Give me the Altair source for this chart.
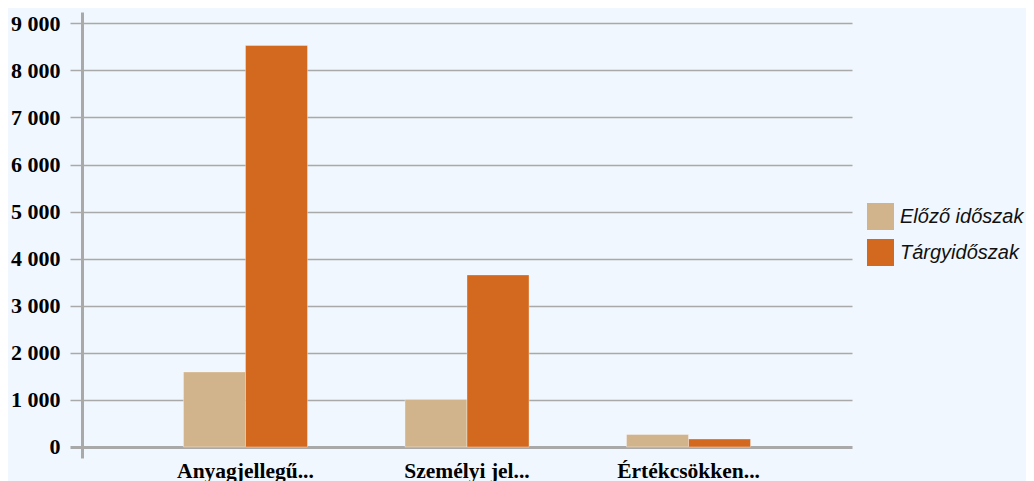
import altair as alt
import pandas as pd

categories = ["Anyagjellegű...", "Személyi jel...", "Értékcsökken..."]
series = ["Előző időszak", "Tárgyidőszak"]
prev_values = [1595, 1010, 265]
curr_values = [8530, 3655, 170]
colors = ["#D2B48C", "#D2691E"]
y_ticks = [0, 1000, 2000, 3000, 4000, 5000, 6000, 7000, 8000, 9000]

rows = []
for c, p, t in zip(categories, prev_values, curr_values):
    rows.append({"cat": c, "series": series[0], "value": p})
    rows.append({"cat": c, "series": series[1], "value": t})
df = pd.DataFrame(rows)

axis_gray = "#A9A9A9"

bars = alt.Chart(df).mark_bar(stroke="#FFFFFF", strokeWidth=1, strokeOpacity=0.35).encode(
    x=alt.X(
        "cat:N",
        sort=categories,
        title=None,
        scale=alt.Scale(paddingInner=0.44, paddingOuter=0.458),
        axis=alt.Axis(
            domain=False,
            ticks=False,
            grid=False,
            labelAngle=0,
            labelFont="Liberation Serif",
            labelFontWeight="bold",
            labelFontSize=21.5,
            labelColor="#000000",
            labelPadding=2,
        ),
    ),
    xOffset=alt.XOffset("series:N", sort=series, scale=alt.Scale(paddingInner=0, paddingOuter=0)),
    y=alt.Y(
        "value:Q",
        title=None,
        stack=None,
        scale=alt.Scale(domain=[-234, 9240], nice=False, zero=False),
        axis=alt.Axis(
            values=y_ticks,
            labelExpr="replace(format(datum.value, ','), ',', ' ')",
            domainColor=axis_gray,
            domainWidth=3,
            tickColor=axis_gray,
            tickSize=12,
            tickWidth={"condition": {"test": "datum.value === 0", "value": 3}, "value": 1.5},
            grid=True,
            gridColor=axis_gray,
            gridWidth={"condition": {"test": "datum.value === 0", "value": 3}, "value": 1.5},
            labelFont="Liberation Serif",
            labelFontWeight="bold",
            labelFontSize=22,
            labelColor="#000000",
            labelPadding=10,
        ),
    ),
    y2=alt.Y2(datum=0),
    color=alt.Color(
        "series:N",
        sort=series,
        scale=alt.Scale(domain=series, range=colors),
        legend=alt.Legend(
            title=None,
            orient="none",
            legendX=785,
            legendY=191,
            symbolType="square",
            symbolSize=729,
            symbolStrokeWidth=0,
            labelFont="Liberation Sans",
            labelFontStyle="italic",
            labelFontSize=20,
            labelColor="#111111",
            labelOffset=6,
            rowPadding=9,
            padding=0,
        ),
    ),
)

chart = bars.properties(
    width=770,
    height=446,
    autosize=alt.AutoSizeParams(type="none"),
    padding={"left": 74, "top": 4, "right": 174, "bottom": 25},
).configure(
    background="#F0F7FE",
).configure_view(
    stroke=None,
)

chart.save("out.html", embed_options={"renderer": "svg", "actions": False})
